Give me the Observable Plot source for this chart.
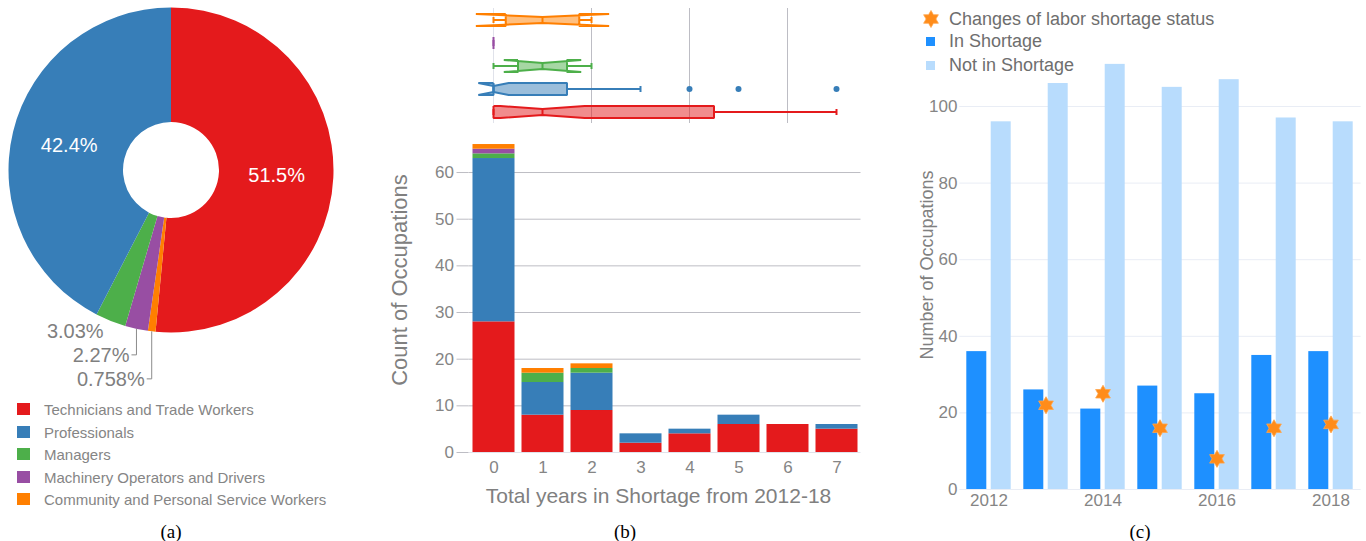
<!DOCTYPE html>
<html><head><meta charset="utf-8">
<script src="https://cdn.jsdelivr.net/npm/d3@7"></script>
<script src="https://cdn.jsdelivr.net/npm/@observablehq/plot@0.6"></script>
<style>
body{margin:0;background:#fff;}
#root{position:relative;width:1366px;height:541px;overflow:hidden;font-family:"Liberation Sans",Arial,sans-serif;}
#root svg{overflow:visible;max-width:none;}
.t{position:absolute;white-space:nowrap;line-height:1;}
.cap{position:absolute;font-family:"Liberation Serif","Times New Roman",serif;font-size:19px;color:#000;transform:translate(-50%,-50%);line-height:1;}
</style></head><body><div id="root"></div>
<script>
// ---------- data ----------
const categories = ["Technicians and Trade Workers","Professionals","Managers","Machinery Operators and Drivers","Community and Personal Service Workers"];
const catColors = ["#e41a1c","#377eb8","#4daf4a","#984ea3","#ff7f00"];

// (a) pie: slices clockwise from 12 o'clock
const pieCats = ["Technicians and Trade Workers","Community and Personal Service Workers","Machinery Operators and Drivers","Managers","Professionals"];
const pieCounts = [68, 1, 3, 4, 56];

// (b) stacked bars: count of occupations by total years in shortage
const yearsInShortage = [0,1,2,3,4,5,6,7];
const techCounts      = [28,8,9,2,4,6,6,5];
const profCounts      = [35,7,8,2,1,2,0,1];
const managerCounts   = [1,2,1,0,0,0,0,0];
const machineryCounts = [1,0,0,0,0,0,0,0];
const communityCounts = [1,1,1,0,0,0,0,0];
const bTicks = [0,10,20,30,40,50,60];

// (b) notched box plots (rows top to bottom)
const boxCats   = ["Community and Personal Service Workers","Machinery Operators and Drivers","Managers","Professionals","Technicians and Trade Workers"];
const boxQ1     = [0.25, 0, 0.5, 0, 0];
const boxMedian = [1, 0, 1, 0, 1];
const boxQ3     = [1.75, 0, 1.5, 1.5, 4.5];
const boxLow    = [0, 0, 0, 0, 0];
const boxHigh   = [2, 0, 2, 3, 7];
const notchLow  = [-0.36, 0, 0.21, -0.31, 0.14];
const notchHigh = [2.36, 0, 1.79, 0.31, 1.86];
const outlierCat = ["Professionals","Professionals","Professionals"];
const outlierVal = [4, 5, 7];
const boxGrid = [0, 2, 4, 6];

// (c) grouped bars
const yearsC = [2012,2013,2014,2015,2016,2017,2018];
const inShortage    = [36,26,21,27,25,35,36];
const notInShortage = [96,106,111,105,107,97,96];
const changeYears = [2013,2014,2015,2016,2017,2018];
const changeCounts = [22,25,16,8,16,17];
const cTicks = [0,20,40,60,80,100];
const cYearTicks = [2012,2014,2016,2018];

// ---------- helpers ----------
const root = document.getElementById("root");
const colorOf = c => catColors[categories.indexOf(c)];
const FONT = '"Liberation Sans", Arial, sans-serif';
function place(node, left, top) {
  const d = document.createElement("div");
  d.style.cssText = `position:absolute;left:${left}px;top:${top}px;`;
  d.appendChild(node); root.appendChild(d); return d;
}
function label(str, x, y, css, anchor) {
  const d = document.createElement("div");
  d.className = "t"; d.textContent = str;
  d.style.cssText += `left:${x}px;top:${y}px;${css}`;
  d.style.transform = anchor || "translate(0,-50%)";
  root.appendChild(d); return d;
}
const hexagram = {
  draw(ctx, size) {
    const R = Math.sqrt(size / Math.PI), r = R / Math.sqrt(3);
    for (let k = 0; k < 12; k++) {
      const rad = k % 2 === 0 ? R : r, a = k * Math.PI / 6;
      const x = rad * Math.sin(a), y = -rad * Math.cos(a);
      k ? ctx.lineTo(x, y) : ctx.moveTo(x, y);
    }
    ctx.closePath();
  }
};

// ---------- (a) donut ----------
const HOLE = 48 / 162.5;
const pieData = pieCats.map((c, i) => ({cat: c, n: pieCounts[i]}));
const pieTotal = d3.sum(pieCounts);
const pieArcs = d3.pie().sort(null).value(d => d.n)(pieData);
const fmtPct = d => d3.format(".3r")(100 * d / pieTotal) + "%";
const unitArc = d3.arc().innerRadius(HOLE).outerRadius(1);
const bigArcs = pieArcs.filter(a => a.endAngle - a.startAngle > 0.5);
const insideLabels = bigArcs.map(a => {
  const [cx, cy] = unitArc.centroid(a);
  return {x: cx, y: -cy, text: fmtPct(a.data.n)};
});
function pieRender(index, scales) {
  const cx = scales.x(0), cy = scales.y(0), R = scales.x(1) - scales.x(0);
  const g = d3.create("svg:g").attr("transform", `translate(${cx},${cy})`);
  const arc = d3.arc().innerRadius(R * HOLE).outerRadius(R);
  g.selectAll("path.s").data(pieArcs).join("path").attr("class", "s")
    .attr("d", arc).attr("fill", d => colorOf(d.data.cat));
  // outside labels for small slices, stacked downward
  const small = pieArcs.filter(a => a.endAngle - a.startAngle <= 0.5).map(a => {
    const m = (a.startAngle + a.endAngle) / 2;
    return {a, ax: R * Math.sin(m), ay: -R * Math.cos(m)};
  }).sort((p, q) => p.ax - q.ax);
  const y0 = small[0].ay + 10;
  small.forEach((s, k) => {
    const ly = y0 + 24 * k;
    if (k > 0) g.append("path").attr("d", `M${s.ax},${s.ay}V${ly}H${s.ax - 5}`)
      .attr("fill", "none").attr("stroke", "#8c8c8c").attr("stroke-width", 1);
    g.append("text").attr("x", s.ax - 7).attr("y", ly).attr("text-anchor", "end")
      .attr("dy", "0.35em").attr("fill", "#7f7f7f").attr("font-size", 20)
      .text(fmtPct(s.a.data.n));
  });
  return g.node();
}
const pie = Plot.plot({
  width: 342, height: 340, marginLeft: 8.5, marginRight: 8.5, marginTop: 7.5, marginBottom: 7.5,
  x: {domain: [-1, 1], axis: null}, y: {domain: [-1, 1], axis: null},
  style: {fontFamily: FONT, background: "transparent", overflow: "visible"},
  marks: [
    pieRender,
    Plot.text(insideLabels, {x: "x", y: "y", text: "text", fill: "white", fontSize: 20})
  ]
});
place(pie, 0, 0);

// legend (a)
categories.forEach((c, i) => {
  const y = 409 + 22.5 * i;
  const sq = document.createElement("div");
  sq.style.cssText = `position:absolute;left:17px;top:${y - 6}px;width:13px;height:12px;background:${catColors[i]};`;
  root.appendChild(sq);
  label(c, 44, y, "font-size:15px;color:#858585;");
});

// ---------- (b) box plots ----------
const HW = 6 / 23, INSET = 3 / 23, CAP = 3 / 23;
const boxMarks = boxCats.map((c, i) => {
  const yc = i + 0.5, top = yc - HW, bot = yc + HW;
  const pts = [
    [boxQ1[i], top], [notchLow[i], top], [boxMedian[i], top + INSET], [notchHigh[i], top], [boxQ3[i], top],
    [boxQ3[i], bot], [notchHigh[i], bot], [boxMedian[i], bot - INSET], [notchLow[i], bot], [boxQ1[i], bot], [boxQ1[i], top]
  ];
  return Plot.line(pts, {x: d => d[0], y: d => d[1], fill: colorOf(c), fillOpacity: 0.5,
    stroke: colorOf(c), strokeWidth: 2, strokeLinejoin: "miter", strokeLinecap: "butt"});
});
const boxRows = boxCats.map((c, i) => ({c, i, yc: i + 0.5}));
const box = Plot.plot({
  width: 486, height: 128, marginLeft: 88.5, marginRight: 5.5, marginTop: 8, marginBottom: 5,
  x: {domain: [-0.5, 7.5], axis: null}, y: {domain: [5, 0], axis: null},
  style: {fontFamily: FONT, background: "transparent", overflow: "visible"},
  marks: [
    Plot.ruleX(boxGrid.filter(v => v !== 0), {stroke: "#bdbdc4", strokeWidth: 1}),
    Plot.ruleX(boxGrid.filter(v => v === 0), {stroke: "#e0e2ea", strokeWidth: 1}),
    // whiskers
    Plot.link(boxRows, {x1: d => boxQ1[d.i], x2: d => boxLow[d.i], y1: "yc", y2: "yc", stroke: d => colorOf(d.c), strokeWidth: 2}),
    Plot.link(boxRows, {x1: d => boxQ3[d.i], x2: d => boxHigh[d.i], y1: "yc", y2: "yc", stroke: d => colorOf(d.c), strokeWidth: 2}),
    Plot.link(boxRows.filter(d => boxHigh[d.i] > boxLow[d.i]), {x1: d => boxLow[d.i], x2: d => boxLow[d.i], y1: d => d.yc - CAP, y2: d => d.yc + CAP, stroke: d => colorOf(d.c), strokeWidth: 2}),
    Plot.link(boxRows.filter(d => boxHigh[d.i] > boxLow[d.i]), {x1: d => boxHigh[d.i], x2: d => boxHigh[d.i], y1: d => d.yc - CAP, y2: d => d.yc + CAP, stroke: d => colorOf(d.c), strokeWidth: 2}),
    ...boxMarks,
    // medians
    Plot.link(boxRows, {x1: d => boxMedian[d.i], x2: d => boxMedian[d.i], y1: d => d.yc - HW + INSET, y2: d => d.yc + HW - INSET, stroke: d => colorOf(d.c), strokeWidth: 2}),
    Plot.dot(outlierVal, {x: d => d, y: (d, i) => boxCats.indexOf(outlierCat[i]) + 0.5, r: 3, fill: colorOf("Professionals"), stroke: "none"})
  ]
});
place(box, 380, 0);

// ---------- (b) stacked bars ----------
const bSeries = [techCounts, profCounts, managerCounts, machineryCounts, communityCounts];
const bData = [];
categories.forEach((c, ci) => yearsInShortage.forEach((yv, i) => bData.push({years: yv, cat: c, n: bSeries[ci][i]})));
const bars = Plot.plot({
  width: 486, height: 400, marginLeft: 88.5, marginRight: 5.5, marginTop: 7.7, marginBottom: 68,
  x: {type: "band", domain: yearsInShortage, padding: 0},
  y: {domain: [0, 69.5]},
  color: {domain: categories, range: catColors},
  style: {fontFamily: FONT, background: "transparent", overflow: "visible"},
  marks: [
    Plot.gridY(bTicks.filter(v => v > 0), {stroke: "#bdbdc4", strokeOpacity: 1}),
    Plot.ruleY([0], {stroke: "#e0e2ea"}),
    Plot.axisY(bTicks, {tickSize: 12, tickFormat: () => "", color: "#bdbdc4", label: null}),
    Plot.axisY(bTicks, {tickSize: 0, tickPadding: 15, color: "#858585", fontSize: 17, label: null}),
    Plot.axisX({tickSize: 0, tickPadding: 8, color: "#858585", fontSize: 17, label: null}),
    Plot.barY(bData, {x: "years", y: "n", fill: "cat", order: categories, insetLeft: 3.5, insetRight: 3.5})
  ]
});
place(bars, 380, 120);
label("Count of Occupations", 400, 280, "font-size:22px;color:#808080;", "translate(-50%,-50%) rotate(-90deg)");
label("Total years in Shortage from 2012-18", 658.5, 495, "font-size:21px;color:#808080;", "translate(-50%,-50%)");

// ---------- (c) grouped bars ----------
const cData = yearsC.map((y, i) => ({year: y, inS: inShortage[i], notS: notInShortage[i]}));
const cChanges = changeYears.map((y, i) => ({year: y, n: changeCounts[i]}));
const IN_COLOR = "#1e90ff", NOT_COLOR = "#b8dcfd", STAR_COLOR = "#ff8c1a";
const cPlot = Plot.plot({
  width: 466, height: 480, marginLeft: 59.35, marginRight: 5.35, marginTop: 8.55, marginBottom: 31,
  x: {type: "band", domain: yearsC, padding: 0},
  y: {domain: [0, 115]},
  style: {fontFamily: FONT, background: "transparent", overflow: "visible"},
  marks: [
    Plot.gridY(cTicks, {stroke: "#e9edf5", strokeOpacity: 1}),
    Plot.axisY(cTicks, {tickSize: 0, tickPadding: 2.5, color: "#858585", fontSize: 17, label: null}),
    Plot.axisX(cYearTicks, {tickSize: 0, tickPadding: 4, color: "#858585", fontSize: 17, label: null, tickFormat: d => String(d)}),
    Plot.barY(cData, {x: "year", y: "inS", fill: IN_COLOR, insetLeft: 6.3, insetRight: 30.7}),
    Plot.barY(cData, {x: "year", y: "notS", fill: NOT_COLOR, insetLeft: 30.7, insetRight: 6.3}),
    Plot.dot(cChanges, {x: "year", y: "n", symbol: hexagram, r: 8.5, fill: STAR_COLOR, stroke: "#ffa64d", strokeWidth: 0.8})
  ]
});
place(cPlot, 900, 40);
label("Number of Occupations", 927, 265, "font-size:18px;color:#808080;", "translate(-50%,-50%) rotate(-90deg)");

// legend (c)
(function () {
  const p = d3.path(); hexagram.draw(p, 8.5 * 8.5 * Math.PI);
  const s = d3.create("svg").attr("width", 20).attr("height", 20)
    .attr("style", "position:absolute;left:921px;top:8.5px;overflow:visible");
  s.append("path").attr("d", p.toString()).attr("transform", "translate(10,10)")
    .attr("fill", STAR_COLOR).attr("stroke", "#ffa64d").attr("stroke-width", 0.8);
  root.appendChild(s.node());
  label("Changes of labor shortage status", 949, 18.5, "font-size:18px;color:#6e6e6e;");
  const sq1 = document.createElement("div");
  sq1.style.cssText = `position:absolute;left:926px;top:37px;width:9px;height:9px;background:${IN_COLOR};`;
  root.appendChild(sq1);
  label("In Shortage", 949, 40.7, "font-size:18px;color:#6e6e6e;");
  const sq2 = document.createElement("div");
  sq2.style.cssText = `position:absolute;left:926px;top:61px;width:9px;height:9px;background:${NOT_COLOR};`;
  root.appendChild(sq2);
  label("Not in Shortage", 949, 65, "font-size:18px;color:#6e6e6e;");
})();

// captions
[["(a)", 171], ["(b)", 625], ["(c)", 1140]].forEach(([t, x]) => {
  const d = document.createElement("div"); d.className = "cap"; d.textContent = t;
  d.style.left = x + "px"; d.style.top = "531px"; root.appendChild(d);
});
</script></body></html>
